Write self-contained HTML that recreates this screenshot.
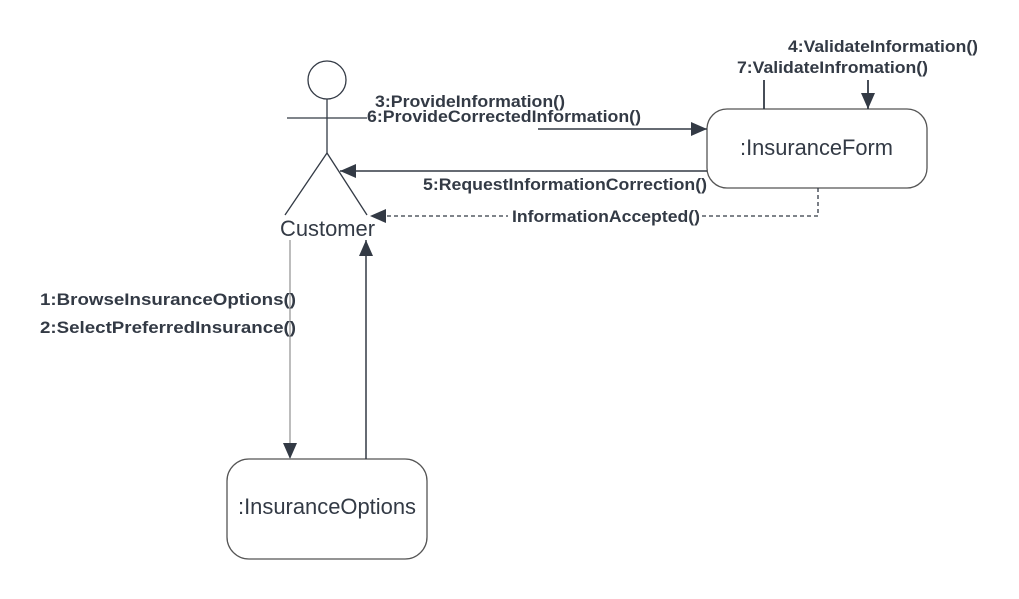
<!DOCTYPE html>
<html><head><meta charset="utf-8"><style>
html,body{margin:0;padding:0;background:#fff;width:1019px;height:599px;overflow:hidden}
svg{display:block}
.l{font-family:"Liberation Sans",sans-serif;font-weight:bold;font-size:17px;fill:#333a45}
.n{font-family:"Liberation Sans",sans-serif;font-size:22px;fill:#333a45}
</style></head><body>
<svg width="1019" height="599" viewBox="0 0 1019 599">
<defs>
<marker id="b" markerWidth="16" markerHeight="14" refX="16" refY="7" orient="auto" markerUnits="userSpaceOnUse"><path d="M0,0 L16,7 L0,14 z" fill="#333a45"/></marker>
</defs>
<g stroke="#333a45" fill="none" stroke-width="1.3">
<circle cx="327" cy="80" r="19"/>
<line x1="327" y1="99" x2="327" y2="153"/>
<line x1="287" y1="118" x2="367" y2="118"/>
<line x1="327" y1="153" x2="285" y2="215"/>
<line x1="327" y1="153" x2="367" y2="215"/>
<rect x="707" y="109" width="220" height="79" rx="20" stroke="#555"/>
<rect x="227" y="459" width="200" height="100" rx="22" stroke="#555"/>
<line x1="538" y1="129" x2="707" y2="129" stroke-width="1.5" marker-end="url(#b)"/>
<line x1="707" y1="171" x2="340" y2="171" stroke-width="1.5" marker-end="url(#b)"/>
<polyline points="818,188 818,216 370,216" stroke-dasharray="4,3" marker-end="url(#b)"/>
<line x1="764" y1="80" x2="764" y2="109" stroke-width="1.8"/>
<line x1="868" y1="80" x2="868" y2="109" stroke-width="1.8" marker-end="url(#b)"/>
<line x1="290" y1="240" x2="290" y2="459" stroke="#999" marker-end="url(#b)"/>
<line x1="366" y1="459" x2="366" y2="240" stroke-width="1.5" marker-end="url(#b)"/>
</g>
<rect x="508" y="206" width="194" height="20" fill="#fff"/>
<text class="n" x="280" y="236" textLength="95" lengthAdjust="spacingAndGlyphs">Customer</text>
<text class="n" x="740" y="155" textLength="153" lengthAdjust="spacingAndGlyphs">:InsuranceForm</text>
<text class="n" x="238" y="514" textLength="178" lengthAdjust="spacingAndGlyphs">:InsuranceOptions</text>
<text class="l" x="375" y="107" textLength="190" lengthAdjust="spacingAndGlyphs">3:ProvideInformation()</text>
<text class="l" x="367" y="122" textLength="274" lengthAdjust="spacingAndGlyphs">6:ProvideCorrectedInformation()</text>
<text class="l" x="423" y="190" textLength="284" lengthAdjust="spacingAndGlyphs">5:RequestInformationCorrection()</text>
<text class="l" x="512" y="222" textLength="188" lengthAdjust="spacingAndGlyphs">InformationAccepted()</text>
<text class="l" x="788" y="52" textLength="190" lengthAdjust="spacingAndGlyphs">4:ValidateInformation()</text>
<text class="l" x="737" y="73" textLength="191" lengthAdjust="spacingAndGlyphs">7:ValidateInfromation()</text>
<text class="l" x="40" y="305" textLength="256" lengthAdjust="spacingAndGlyphs">1:BrowseInsuranceOptions()</text>
<text class="l" x="40" y="333" textLength="256" lengthAdjust="spacingAndGlyphs">2:SelectPreferredInsurance()</text>
</svg>
</body></html>
